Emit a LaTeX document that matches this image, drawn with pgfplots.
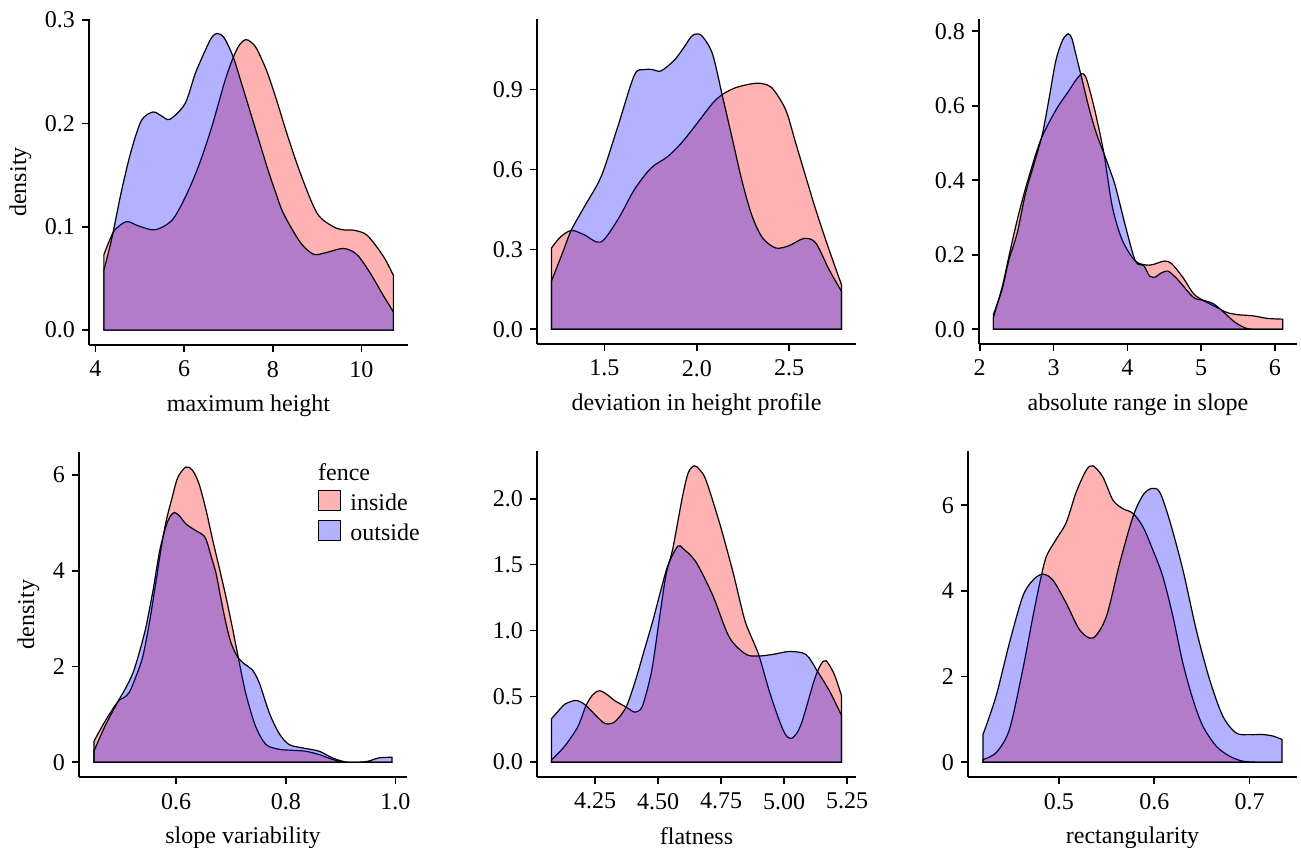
\documentclass[border=0pt]{standalone}
\usepackage{fontspec}
\setmainfont{Liberation Serif}
\usepackage{pgfplots}
\pgfplotsset{compat=1.18}

\newcommand{\tfont}{\fontsize{12}{14}\selectfont}

\pgfplotsset{
  dens/.style={
    scale only axis,
    anchor=south west,
    axis lines=left,
    axis line style={-, line width=0.8pt, black},
    tick align=outside,
    major tick length=3.5pt,
    tick style={line width=0.8pt, black},
    tick label style={font=\tfont, black},
    xticklabel style={yshift=-1pt},
    label style={font=\tfont},
    xlabel style={yshift=-2pt},
    clip=false,
  },
  inside/.style={draw=black, line width=0.6pt, fill=red, fill opacity=0.3, smooth, tension=0.5},
  outside/.style={draw=black, line width=0.6pt, fill=blue, fill opacity=0.3, smooth, tension=0.5},
}

\begin{document}
\begin{tikzpicture}
\useasboundingbox (0,0) rectangle (650.5pt,423.5pt);

% ---- maximum height
\begin{axis}[dens, at={(44.5pt,251pt)}, width=159.5pt, height=163pt,
  xmin=3.855, xmax=11.05, ymin=-0.0144, ymax=0.301,
  xtick={4,6,8,10}, xticklabels={4,6,8,10},
  ytick={0,0.1,0.2,0.3}, yticklabels={0.0,0.1,0.2,0.3},
  xlabel={maximum height}, ylabel={density}]
\addplot[inside] coordinates {
 (4.19,0.073) (4.32,0.087) (4.44,0.097) (4.70,0.105) (4.96,0.101) (5.34,0.097)
 (5.72,0.106) (6.02,0.128) (6.32,0.158) (6.62,0.196) (6.92,0.241) (7.11,0.264)
 (7.25,0.276) (7.38,0.281) (7.5,0.279) (7.64,0.272) (7.87,0.25) (8.09,0.222)
 (8.32,0.19) (8.62,0.152) (9.0,0.113) (9.37,0.1) (9.6,0.097) (9.83,0.0966)
 (10.13,0.0917) (10.5,0.071) (10.72,0.053)} \closedcycle;
\addplot[outside] coordinates {
 (4.19,0.058) (4.36,0.087) (4.59,0.135) (4.81,0.174) (5.04,0.203) (5.30,0.211)
 (5.50,0.207) (5.68,0.204) (6.02,0.219) (6.25,0.248) (6.47,0.270) (6.62,0.283)
 (6.74,0.287) (6.9,0.283) (7.11,0.264) (7.3,0.238) (7.5,0.21) (7.87,0.158)
 (8.05,0.135) (8.24,0.113) (8.62,0.085) (8.92,0.0734) (9.2,0.075) (9.6,0.079)
 (9.9,0.073) (10.2,0.055) (10.5,0.033) (10.72,0.0177)} \closedcycle;
\end{axis}

% ---- deviation in height profile
\begin{axis}[dens, at={(268.5pt,251.5pt)}, width=159.5pt, height=162.5pt,
  xmin=1.135, xmax=2.862, ymin=-0.0555, ymax=1.165,
  xtick={1.5,2,2.5}, xticklabels={1.5,2.0,2.5},
  ytick={0,0.3,0.6,0.9}, yticklabels={0.0,0.3,0.6,0.9},
  xlabel={deviation in height profile}]
\addplot[inside] coordinates {
 (1.2135,0.305) (1.26,0.345) (1.32,0.371) (1.39,0.355) (1.48,0.327) (1.572,0.411)
 (1.662,0.524) (1.752,0.605) (1.842,0.648) (1.915,0.698) (1.987,0.76) (2.085,0.848)
 (2.14,0.882) (2.21,0.907) (2.30,0.922) (2.356,0.922) (2.41,0.904) (2.482,0.823)
 (2.536,0.698) (2.59,0.573) (2.644,0.449) (2.716,0.299) (2.783,0.168)} \closedcycle;
\addplot[outside] coordinates {
 (1.2135,0.181) (1.275,0.29) (1.32,0.371) (1.392,0.461) (1.482,0.573) (1.572,0.76)
 (1.662,0.954) (1.716,0.975) (1.76,0.975) (1.806,0.97) (1.878,1.01) (1.932,1.06)
 (1.968,1.097) (1.995,1.109) (2.03,1.1) (2.085,1.034) (2.14,0.872) (2.194,0.71)
 (2.248,0.548) (2.30,0.424) (2.356,0.343) (2.428,0.305) (2.5,0.314) (2.581,0.341)
 (2.644,0.324) (2.716,0.224) (2.783,0.143)} \closedcycle;
\end{axis}

% ---- absolute range in slope
\begin{axis}[dens, at={(489.5pt,251.5pt)}, width=159pt, height=162.5pt,
  xmin=1.99, xmax=6.30, ymin=-0.0397, ymax=0.833,
  xtick={2,3,4,5,6}, xticklabels={2,3,4,5,6},
  ytick={0,0.2,0.4,0.6,0.8}, yticklabels={0.0,0.2,0.4,0.6,0.8},
  xlabel={absolute range in slope}]
\addplot[inside] coordinates {
 (2.185,0.031) (2.307,0.116) (2.40,0.2) (2.487,0.276) (2.575,0.345) (2.667,0.41)
 (2.826,0.508) (3.03,0.588) (3.21,0.641) (3.30,0.668) (3.38,0.686) (3.43,0.68)
 (3.48,0.65) (3.57,0.579) (3.683,0.472) (3.796,0.33) (3.93,0.24) (4.11,0.183)
 (4.3,0.172) (4.5,0.183) (4.6,0.176) (4.75,0.14) (4.9,0.095) (5.04,0.076)
 (5.2,0.06) (5.35,0.045) (5.5,0.039) (5.7,0.036) (5.9,0.029) (6.107,0.027)} \closedcycle;
\addplot[outside] coordinates {
 (2.185,0.04) (2.30,0.105) (2.397,0.187) (2.51,0.26) (2.62,0.365) (2.73,0.44)
 (2.85,0.525) (2.94,0.62) (3.03,0.72) (3.12,0.775) (3.20,0.793) (3.25,0.78)
 (3.30,0.74) (3.39,0.668) (3.46,0.61) (3.526,0.561) (3.60,0.515) (3.683,0.472)
 (3.76,0.43) (3.84,0.383) (3.976,0.276) (4.11,0.183) (4.225,0.17) (4.30,0.143)
 (4.38,0.14) (4.45,0.15) (4.55,0.156) (4.65,0.14) (4.72,0.125) (4.9,0.085)
 (5.04,0.077) (5.17,0.068) (5.31,0.045) (5.45,0.02) (5.58,0.005) (5.7,0)
 (6.107,0)} \closedcycle;
\end{axis}

% ---- slope variability
\begin{axis}[dens, at={(39.5pt,35pt)}, width=164pt, height=162.5pt,
  xmin=0.4228, xmax=1.0212, ymin=-0.309, ymax=6.484,
  xtick={0.6,0.8,1.0}, xticklabels={0.6,0.8,1.0},
  ytick={0,2,4,6}, yticklabels={0,2,4,6},
  xlabel={slope variability}, ylabel={density},
  legend style={draw=none, fill=none, at={(0.728,0.885)}, anchor=north west,
    font=\tfont, inner sep=0pt, row sep=1pt,
    /tikz/every odd column/.append style={column sep=2.5pt}},
  legend cell align=left,
  legend image code/.code={\filldraw[#1] (0pt,-3.5pt) rectangle (11pt,6.5pt);}]
\addplot[inside] coordinates {
 (0.45,0.437) (0.47,0.85) (0.494,1.27) (0.505,1.35) (0.515,1.47) (0.527,1.8)
 (0.539,2.2) (0.551,2.9) (0.5636,3.8) (0.573,4.5) (0.582,5.05) (0.592,5.5)
 (0.603,5.95) (0.618,6.17) (0.63,6.1) (0.642,5.81) (0.655,5.25) (0.667,4.63)
 (0.679,4.05) (0.691,3.45) (0.702,2.85) (0.712,2.27) (0.727,1.44) (0.745,0.75)
 (0.764,0.37) (0.788,0.27) (0.81,0.25) (0.836,0.23) (0.861,0.16) (0.885,0.06)
 (0.909,0.0) (0.95,0) (0.994,0)} \closedcycle;
\addlegendentry{inside}
\addplot[outside] coordinates {
 (0.45,0.23) (0.47,0.75) (0.494,1.27) (0.508,1.55) (0.521,1.86) (0.533,2.3)
 (0.545,2.83) (0.558,3.6) (0.570,4.42) (0.582,4.95) (0.590,5.15) (0.597,5.22)
 (0.606,5.15) (0.618,4.98) (0.636,4.84) (0.648,4.76) (0.655,4.65) (0.664,4.3)
 (0.673,3.94) (0.682,3.4) (0.691,2.9) (0.70,2.5) (0.712,2.2) (0.725,2.05)
 (0.739,1.93) (0.752,1.65) (0.77,1.03) (0.788,0.6) (0.806,0.37) (0.83,0.30)
 (0.861,0.23) (0.885,0.09) (0.909,0.007) (0.93,0) (0.95,0.02) (0.97,0.09)
 (0.994,0.104)} \closedcycle;
\addlegendentry{outside}
\node[anchor=north west, inner sep=0pt, font=\tfont] at (rel axis cs:0.728,0.965) {fence};
\end{axis}

% ---- flatness
\begin{axis}[dens, at={(268.5pt,35pt)}, width=159.5pt, height=163pt,
  xmin=4.0195, xmax=5.285, ymin=-0.1125, ymax=2.3625,
  xtick={4.25,4.5,4.75,5,5.25}, xticklabels={4.25,4.50,4.75,5.00,5.25},
  ytick={0,0.5,1,1.5,2}, yticklabels={0.0,0.5,1.0,1.5,2.0},
  xlabel={flatness}]
\addplot[inside] coordinates {
 (4.077,0.018) (4.128,0.118) (4.181,0.268) (4.214,0.43) (4.24,0.51) (4.267,0.543)
 (4.30,0.51) (4.327,0.468) (4.373,0.418) (4.406,0.38) (4.43,0.40) (4.445,0.468)
 (4.475,0.7) (4.505,1.09) (4.531,1.42) (4.558,1.62) (4.597,2.02) (4.62,2.2)
 (4.644,2.25) (4.665,2.22) (4.69,2.14) (4.743,1.82) (4.796,1.45) (4.842,1.09)
 (4.87,0.95) (4.90,0.81) (4.941,0.54) (4.98,0.32) (5.005,0.21) (5.027,0.18)
 (5.05,0.22) (5.073,0.32) (5.119,0.62) (5.145,0.74) (5.166,0.77) (5.198,0.67)
 (5.2275,0.505)} \closedcycle;
\addplot[outside] coordinates {
 (4.077,0.33) (4.10,0.38) (4.13,0.44) (4.168,0.468) (4.19,0.46) (4.214,0.43)
 (4.25,0.36) (4.28,0.305) (4.30,0.29) (4.33,0.31) (4.373,0.418) (4.41,0.62)
 (4.445,0.85) (4.48,1.08) (4.51,1.3) (4.54,1.5) (4.578,1.64) (4.60,1.62)
 (4.65,1.52) (4.716,1.27) (4.782,0.95) (4.848,0.82) (4.90,0.806) (4.96,0.82)
 (5.02,0.84) (5.086,0.818) (5.132,0.69) (5.18,0.54) (5.2275,0.355)} \closedcycle;
\end{axis}

% ---- rectangularity
\begin{axis}[dens, at={(484pt,35pt)}, width=164.5pt, height=163pt,
  xmin=0.4046, xmax=0.7497, ymin=-0.346, ymax=7.266,
  xtick={0.5,0.6,0.7}, xticklabels={0.5,0.6,0.7},
  ytick={0,2,4,6}, yticklabels={0,2,4,6},
  xlabel={rectangularity}]
\addplot[inside] coordinates {
 (0.4203,0.062) (0.434,0.22) (0.448,0.76) (0.462,2.16) (0.4727,3.4) (0.48,4.2)
 (0.4867,4.8) (0.497,5.2) (0.5077,5.6) (0.518,6.3) (0.5287,6.82) (0.5357,6.92)
 (0.546,6.66) (0.5566,6.12) (0.567,5.92) (0.5776,5.81) (0.588,5.5) (0.5986,4.95)
 (0.609,4.33) (0.6196,3.40) (0.630,2.31) (0.6406,1.46) (0.651,0.84) (0.665,0.373)
 (0.679,0.14) (0.693,0.023) (0.71,0) (0.734,0)} \closedcycle;
\addplot[outside] coordinates {
 (0.4203,0.644) (0.434,1.54) (0.448,2.78) (0.462,3.87) (0.4727,4.25) (0.483,4.39)
 (0.4937,4.25) (0.5077,3.71) (0.5217,3.09) (0.5357,2.90) (0.5497,3.40) (0.5636,4.64)
 (0.5776,5.73) (0.588,6.23) (0.5969,6.39) (0.6056,6.31) (0.616,5.65) (0.630,4.49)
 (0.644,3.09) (0.658,1.93) (0.672,1.07) (0.686,0.68) (0.7,0.644) (0.714,0.644)
 (0.7245,0.61) (0.734,0.53)} \closedcycle;
\end{axis}
\end{tikzpicture}
\end{document}
